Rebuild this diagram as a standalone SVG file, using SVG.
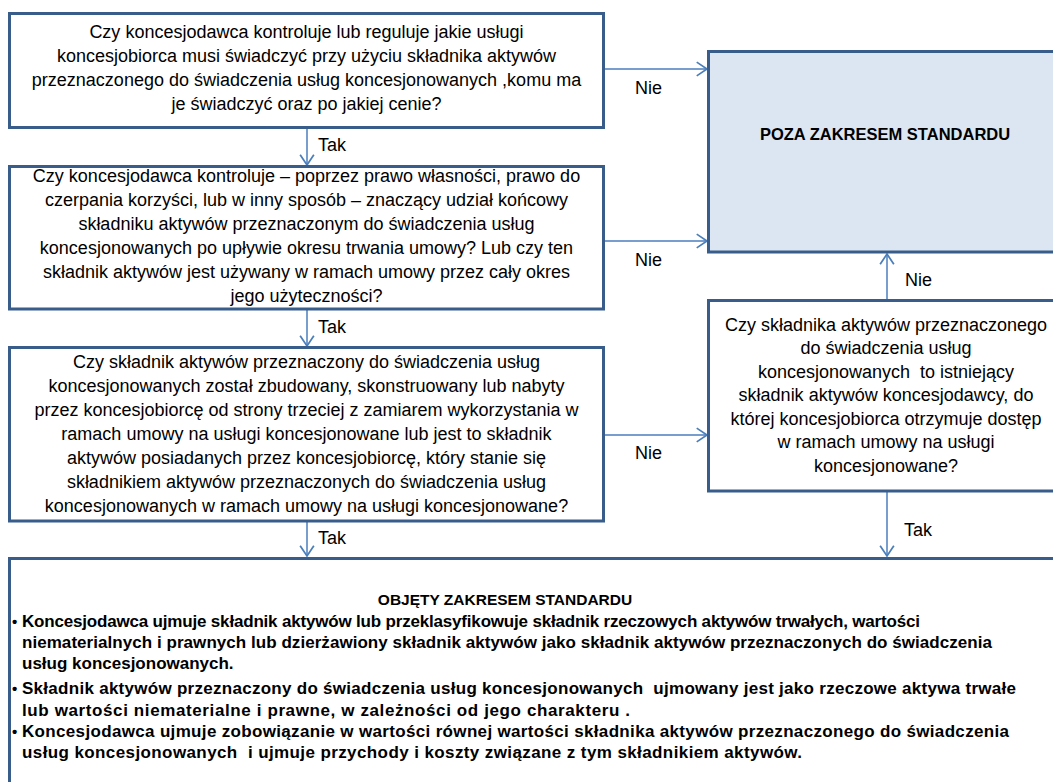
<svg xmlns="http://www.w3.org/2000/svg" width="1053" height="782" viewBox="0 0 1053 782">
<style>
.box{fill:#ffffff;stroke:#385d8a;stroke-width:3}
.fillbox{fill:#dce6f2;stroke:#385d8a;stroke-width:3}
.t{font-family:"Liberation Sans",Arial,sans-serif;font-size:18px;fill:#000;text-anchor:middle;white-space:pre}
.lbl{font-family:"Liberation Sans",Arial,sans-serif;font-size:18px;fill:#000}
.b{font-family:"Liberation Sans",Arial,sans-serif;font-size:17px;font-weight:bold;fill:#000;white-space:pre}
.c{fill:none;stroke:#4a7ebb;stroke-width:1.5;marker-end:url(#arr)}
</style>
<defs>
<marker id="arr" markerUnits="userSpaceOnUse" markerWidth="14" markerHeight="16" refX="10" refY="7" orient="auto" viewBox="0 0 12 14">
<path d="M1,1 L10,7 L1,13" fill="none" stroke="#4a7ebb" stroke-width="1.5"/>
</marker>
</defs>
<rect width="1053" height="782" fill="#ffffff"/>
<g id="connectors">
<path class="c" d="M604,69 H707"/>
<path class="c" d="M604,241 H707"/>
<path class="c" d="M604,435 H707"/>
<path class="c" d="M887,299 V254"/>
<path class="c" d="M887,492 V556"/>
<path class="c" d="M307,128 V165"/>
<path class="c" d="M307,310 V346"/>
<path class="c" d="M307,522 V556"/>
<text class="lbl" x="635" y="94">Nie</text>
<text class="lbl" x="635" y="266">Nie</text>
<text class="lbl" x="635" y="459">Nie</text>
<text class="lbl" x="905" y="286">Nie</text>
<text class="lbl" x="904" y="536">Tak</text>
<text class="lbl" x="318" y="151">Tak</text>
<text class="lbl" x="318" y="333">Tak</text>
<text class="lbl" x="318" y="544">Tak</text>
</g>
<g id="q1">
<rect class="box" x="9.5" y="13.5" width="594" height="114"/>
<text class="t" x="306.5" y="38">Czy koncesjodawca kontroluje lub reguluje jakie usługi</text>
<text class="t" x="306.5" y="62">koncesjobiorca musi świadczyć przy użyciu składnika aktywów</text>
<text class="t" x="306.5" y="86">przeznaczonego do świadczenia usług koncesjonowanych ,komu ma</text>
<text class="t" x="306.5" y="110">je świadczyć oraz po jakiej cenie?</text>
</g>
<g id="q2">
<rect class="box" x="9.5" y="166.5" width="594" height="142.5"/>
<text class="t" x="306.5" y="182">Czy koncesjodawca kontroluje – poprzez prawo własności, prawo do</text>
<text class="t" x="306.5" y="206">czerpania korzyści, lub w inny sposób – znaczący udział końcowy</text>
<text class="t" x="306.5" y="230">składniku aktywów przeznaczonym do świadczenia usług</text>
<text class="t" x="306.5" y="254">koncesjonowanych po upływie okresu trwania umowy? Lub czy ten</text>
<text class="t" x="306.5" y="278">składnik aktywów jest używany w ramach umowy przez cały okres</text>
<text class="t" x="306.5" y="302">jego użyteczności?</text>
</g>
<g id="q3">
<rect class="box" x="9.5" y="347.5" width="594" height="173.5"/>
<text class="t" x="306.5" y="368">Czy składnik aktywów przeznaczony do świadczenia usług</text>
<text class="t" x="306.5" y="392">koncesjonowanych został zbudowany, skonstruowany lub nabyty</text>
<text class="t" x="306.5" y="416">przez koncesjobiorcę od strony trzeciej z zamiarem wykorzystania w</text>
<text class="t" x="306.5" y="440">ramach umowy na usługi koncesjonowane lub jest to składnik</text>
<text class="t" x="306.5" y="464">aktywów posiadanych przez koncesjobiorcę, który stanie się</text>
<text class="t" x="306.5" y="488">składnikiem aktywów przeznaczonych do świadczenia usług</text>
<text class="t" x="306.5" y="512">koncesjonowanych w ramach umowy na usługi koncesjonowane?</text>
</g>
<g id="outside">
<rect class="fillbox" x="708.5" y="51.5" width="360" height="200.5"/>
<text class="t" x="885" y="140" style="font-weight:bold;font-size:16.5px">POZA ZAKRESEM STANDARDU</text>
</g>
<g id="q4">
<rect class="box" x="708.5" y="300.5" width="360" height="190.5"/>
<text class="t" x="886" y="331">Czy składnika aktywów przeznaczonego</text>
<text class="t" x="886" y="354">do świadczenia usług</text>
<text class="t" x="886" y="378">koncesjonowanych  to istniejący</text>
<text class="t" x="886" y="401">składnik aktywów koncesjodawcy, do</text>
<text class="t" x="886" y="425">której koncesjobiorca otrzymuje dostęp</text>
<text class="t" x="886" y="448">w ramach umowy na usługi</text>
<text class="t" x="886" y="472">koncesjonowane?</text>
</g>
<g id="inside">
<rect class="box" x="9.5" y="558.5" width="1060" height="240"/>
<text class="b" x="505" y="605" text-anchor="middle" style="font-size:15.5px">OBJĘTY ZAKRESEM STANDARDU</text>
<text class="b" x="12" y="627" style="font-size:15px">•</text>
<text class="b" x="22" y="627" textLength="898" lengthAdjust="spacing">Koncesjodawca ujmuje składnik aktywów lub przeklasyfikowuje składnik rzeczowych aktywów trwałych, wartości</text>
<text class="b" x="22" y="648" textLength="970" lengthAdjust="spacing">niematerialnych i prawnych lub dzierżawiony składnik aktywów jako składnik aktywów przeznaczonych do świadczenia</text>
<text class="b" x="22" y="669">usług koncesjonowanych.</text>
<text class="b" x="12" y="694" style="font-size:15px">•</text>
<text class="b" x="22" y="694" textLength="994" lengthAdjust="spacing">Składnik aktywów przeznaczony do świadczenia usług koncesjonowanych  ujmowany jest jako rzeczowe aktywa trwałe</text>
<text class="b" x="22" y="716" textLength="608" lengthAdjust="spacing">lub wartości niematerialne i prawne, w zależności od jego charakteru .</text>
<text class="b" x="12" y="737" style="font-size:15px">•</text>
<text class="b" x="22" y="737" textLength="987" lengthAdjust="spacing">Koncesjodawca ujmuje zobowiązanie w wartości równej wartości składnika aktywów przeznaczonego do świadczenia</text>
<text class="b" x="22" y="758" textLength="780" lengthAdjust="spacing">usług koncesjonowanych  i ujmuje przychody i koszty związane z tym składnikiem aktywów.</text>
</g>
</svg>
